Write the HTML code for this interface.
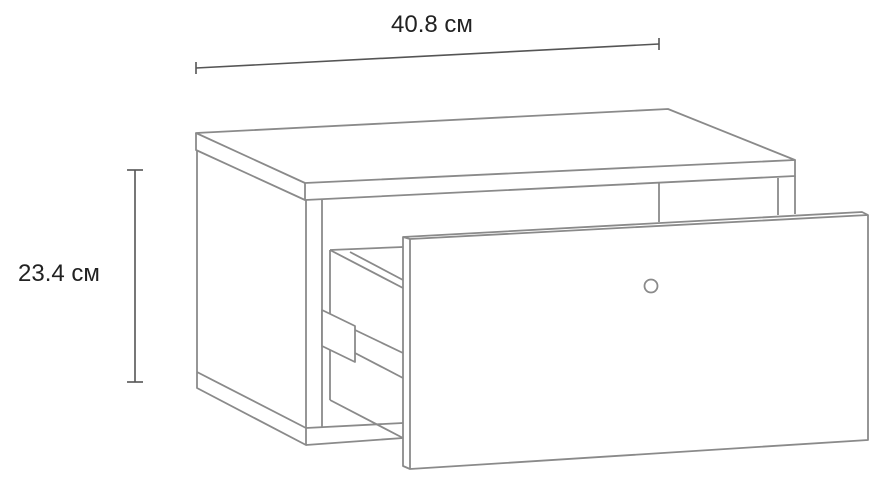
<!DOCTYPE html>
<html><head><meta charset="utf-8"><style>
html,body{margin:0;padding:0;background:#fff;width:888px;height:480px;overflow:hidden}
text{font-family:"Liberation Sans",sans-serif;font-size:24px;fill:#222}
</style></head><body>
<svg width="888" height="480" viewBox="0 0 888 480" xmlns="http://www.w3.org/2000/svg">
<g stroke="#555" stroke-width="1.6" fill="none">
<line x1="196" y1="68" x2="659" y2="44"/>
<line x1="196" y1="62" x2="196" y2="74"/>
<line x1="659" y1="38" x2="659" y2="50"/>
<line x1="135" y1="170" x2="135" y2="382"/>
<line x1="127" y1="170" x2="143" y2="170"/>
<line x1="127" y1="382" x2="143" y2="382"/>
</g>
<text x="432" y="32" text-anchor="middle">40.8 см</text>
<text x="59" y="281" text-anchor="middle">23.4 см</text>
<g stroke="#8a8a8a" stroke-width="1.8" fill="none" stroke-linejoin="round">
<polygon points="196,133 668,109 795,160 305,183" fill="#fff"/>
<polyline points="196,133 196,150 305,200 795,176 795,160"/>
<line x1="305" y1="183" x2="305" y2="200"/>
<line x1="197" y1="150" x2="197" y2="372"/>
<polyline points="197,372 197,388 306,445 306,428 197,372"/>
<line x1="306" y1="200" x2="306" y2="428"/>
<line x1="322" y1="200" x2="322" y2="428"/>
<polyline points="306,428 403,423"/>
<polyline points="306,445 403,438"/>
<line x1="795" y1="176" x2="795" y2="214"/>
<line x1="778" y1="178" x2="778" y2="215"/>
<line x1="659" y1="183" x2="659" y2="222"/>
<polyline points="330,250 403,247"/>
<line x1="330" y1="250" x2="403" y2="288"/>
<line x1="350" y1="252" x2="403" y2="280"/>
<line x1="330" y1="250" x2="330" y2="400"/>
<line x1="330" y1="400" x2="403" y2="438"/>
<polygon points="322,310 355,326 355,362 322,346" fill="#fff"/>
<line x1="355" y1="330" x2="403" y2="353"/>
<line x1="355" y1="353" x2="403" y2="378"/>
<polygon points="403,237 862,212 868,215 868,440 410,469 403,466" fill="#fff"/>
<polyline points="403,237 410,239 868,215"/>
<line x1="410" y1="239" x2="410" y2="469"/>
<circle cx="651" cy="286" r="6.5"/>
</g>
</svg>
</body></html>
